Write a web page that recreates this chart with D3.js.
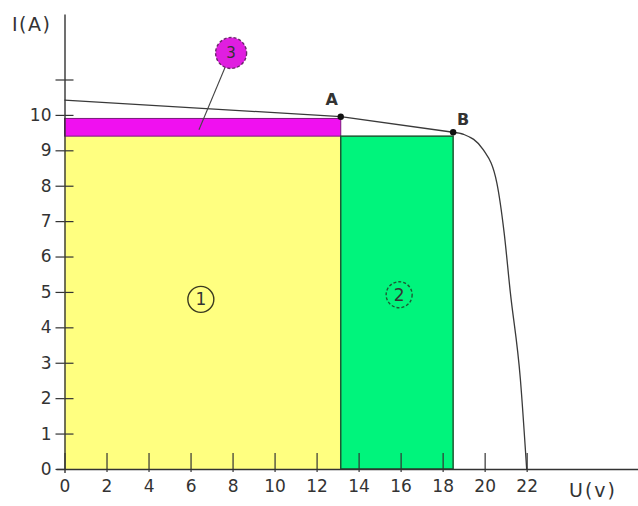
<!DOCTYPE html>
<html><head><meta charset="utf-8">
<script src="https://cdn.jsdelivr.net/npm/d3@7"></script>
<style>
html,body{margin:0;padding:0;background:#fff;}
svg{display:block;}
text{font-family:"DejaVu Sans",Verdana,sans-serif;fill:#333;}
</style></head>
<body>
<svg id="chart" width="638" height="506"></svg>
<script>
// ---- data ----
const curveU = [0, 13.15, 18.5, 19.0, 19.94, 20.58, 20.93, 21.22, 21.7, 22.0];
const curveI = [10.42, 9.95, 9.51, 9.45, 9.01, 8.08, 6.66, 5.0, 2.54, 0];
const pointNames = ["A", "B"];
const pointU = [13.15, 18.5];
const pointI = [9.95, 9.51];
const regionNames = ["1", "3", "2"];
const regionU0 = [0, 0, 13.15];
const regionU1 = [13.15, 13.15, 18.5];
const regionI0 = [0, 9.4, 0];
const regionI1 = [9.4, 9.9, 9.4];
const markerNames = ["1", "2", "3"];
const markerU = [6.49, 15.93, 7.93];
const markerI = [4.79, 4.92, 11.75];
const leaderEnd = [6.4, 9.58];
const xTickValues = [0, 2, 4, 6, 8, 10, 12, 14, 16, 18, 20, 22];
const xTickLabels = ["0","2","4","6","8","10","12","14","16","18","20","22"];
const yTickValues = [0,1,2,3,4,5,6,7,8,9,10,11];
const yTickLabels = ["0","1","2","3","4","5","6","7","8","9","10",""];
const xTitle = "U(v)";
const yTitle = "I(A)";

// ---- drawing ----
const svg = d3.select("#chart");
const x = d3.scaleLinear().domain([-0.4, 27.3]).range([56.1, 638]);
const y = d3.scaleLinear().domain([-0.1, 12.85]).range([472.5, 14]);

const fills = {"1": "#ffff80", "3": "#f010f0", "2": "#00f47c"};
const strokes = {"1": "none", "3": "#7a1a7a", "2": "#1d5a32"};

regionNames.forEach((n, i) => {
  svg.append("rect")
    .attr("x", x(regionU0[i]))
    .attr("y", y(regionI1[i]))
    .attr("width", x(regionU1[i]) - x(regionU0[i]))
    .attr("height", y(regionI0[i]) - y(regionI1[i]))
    .attr("fill", fills[n])
    .attr("stroke", strokes[n])
    .attr("stroke-width", n === "2" ? 1.5 : 1);
});

// curve: straight segments to B, smooth knee after B
const pts = curveU.map((u, i) => [u, curveI[i]]);
const lineLin = d3.line().x(d => x(d[0])).y(d => y(d[1])).curve(d3.curveLinear);
const lineMono = d3.line().x(d => x(d[0])).y(d => y(d[1])).curve(d3.curveMonotoneX);
svg.append("path").attr("d", lineLin(pts.slice(0, 3)))
  .attr("fill", "none").attr("stroke", "#3a3a3a").attr("stroke-width", 1.3);
svg.append("path").attr("d", lineMono(pts.slice(2)))
  .attr("fill", "none").attr("stroke", "#3a3a3a").attr("stroke-width", 1.3);

// axes
const xAxis = d3.axisBottom(x).tickValues(xTickValues)
  .tickFormat((d, i) => xTickLabels[i]).tickSizeInner(-16).tickSizeOuter(0).tickPadding(11);
const gx = svg.append("g").attr("transform", `translate(0,${y(0)})`).call(xAxis);
gx.select(".domain").attr("stroke", "#333").attr("stroke-width", 1.4);
gx.selectAll(".tick line").attr("stroke", "#333").attr("stroke-width", 1.2);
gx.selectAll(".tick text").attr("font-size", 17).attr("fill", "#333");
const xAxis2 = d3.axisBottom(x).tickValues(xTickValues.filter(v => v > 0))
  .tickFormat("").tickSizeInner(3).tickSizeOuter(0);
const gx2 = svg.append("g").attr("transform", `translate(0,${y(0)})`).call(xAxis2);
gx2.select(".domain").remove();
gx2.selectAll(".tick line").attr("stroke", "#333").attr("stroke-width", 1.2);

const yAxis = d3.axisLeft(y).tickValues(yTickValues)
  .tickFormat((d, i) => yTickLabels[i]).tickSizeInner(9).tickSizeOuter(0).tickPadding(4);
const gy = svg.append("g").attr("transform", `translate(${x(0)},0)`).call(yAxis);
gy.select(".domain").attr("stroke", "#333").attr("stroke-width", 1.4);
gy.selectAll(".tick line").attr("stroke", "#333").attr("stroke-width", 1.2);
gy.selectAll(".tick text").attr("font-size", 17).attr("fill", "#333");
const yAxis2 = d3.axisRight(y).tickValues(yTickValues.filter(v => v > 0))
  .tickFormat("").tickSizeInner(9).tickSizeOuter(0);
const gy2 = svg.append("g").attr("transform", `translate(${x(0)},0)`).call(yAxis2);
gy2.select(".domain").remove();
gy2.selectAll(".tick line").attr("stroke", "#333").attr("stroke-width", 1.2);

// titles
svg.append("text").attr("x", 12).attr("y", 31).attr("font-size", 19)
  .attr("letter-spacing", 1.5).text(yTitle);
svg.append("text").attr("x", 569).attr("y", 497).attr("font-size", 19)
  .attr("letter-spacing", 2).text(xTitle);

// leader line for marker 3
svg.append("line")
  .attr("x1", x(markerU[2])).attr("y1", y(markerI[2]))
  .attr("x2", x(leaderEnd[0])).attr("y2", y(leaderEnd[1]))
  .attr("stroke", "#444").attr("stroke-width", 1.1);

// markers
const mFill = {"1": "none", "2": "none", "3": "#e01ee0"};
const mStroke = {"1": "#3a3a20", "2": "#1d5a32", "3": "#6a2a6a"};
const mDash = {"1": null, "2": "3,2", "3": "3,2"};
const mR = {"1": 13, "2": 13, "3": 15.5};
markerNames.forEach((n, i) => {
  const g = svg.append("g").attr("transform", `translate(${x(markerU[i])},${y(markerI[i])})`);
  g.append("circle").attr("r", mR[n]).attr("fill", mFill[n])
    .attr("stroke", mStroke[n]).attr("stroke-width", 1.4).attr("stroke-dasharray", mDash[n]);
  g.append("text").attr("text-anchor", "middle").attr("dy", "0.36em")
    .attr("font-size", n === "3" ? 15 : 17).attr("fill", n === "3" ? "#5a1a5a" : "#222").text(n);
});

// points A, B
pointNames.forEach((n, i) => {
  svg.append("circle").attr("cx", x(pointU[i])).attr("cy", y(pointI[i])).attr("r", 3.2).attr("fill", "#111");
  svg.append("text")
    .attr("x", x(pointU[i]) + (n === "A" ? -9 : 10))
    .attr("y", y(pointI[i]) + (n === "A" ? -12 : -7))
    .attr("text-anchor", "middle").attr("font-size", 16).attr("font-weight", "bold")
    .attr("fill", "#111").text(n);
});
</script>
</body></html>
